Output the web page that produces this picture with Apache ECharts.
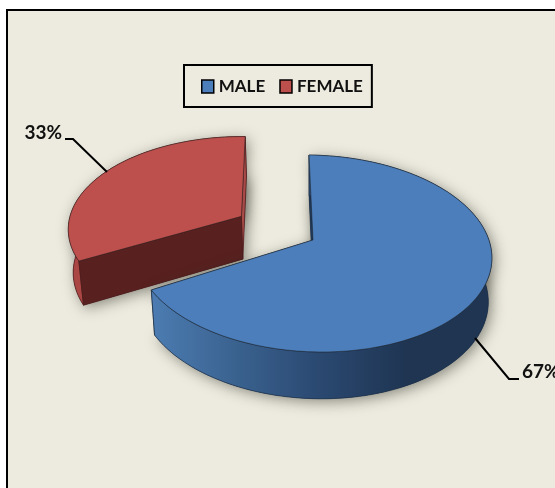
<!DOCTYPE html>
<html><head><meta charset="utf-8">
<style>html,body{margin:0;padding:0;background:#fff}#c{width:555px;height:488px}</style>
<script src="https://cdn.jsdelivr.net/npm/echarts@6/dist/echarts.min.js"></script>
</head><body><div id="c"></div>
<script>
var categories = ['MALE', 'FEMALE'];
var values = [67, 33];
var labelSuffix = '%';

var P = {cx:313, cy:240, R:176.5, Ry:96.6, k:0.137, shearX:-4.5, shearY:-2, start:0, explode:0.48, depth:43.5, bottomScale:0.98};
var total = values.reduce(function(a,b){return a+b;},0);
var looks = [
  {top:'#4b7ebb', start:'#1f3a5c', end:'#1f3a5c', rim:['#4c7cb2','#3a628f','#2a4870','#1f3552','#1f3552'], stroke:'#1c2f48', rimFirst:false,
   leader:[[475,338],[509,379],[519,379]], text:[522,372,'left']},
  {top:'#bd504d', start:'#582120', end:'#a84a47', rim:['#aa4643','#a84a47'], stroke:'#4a1d1c', rimFirst:true,
   leader:[[107,172],[73,139],[65,139]], text:[62,133,'right']}
];
function proj(u,v){var w=1+P.k*v;return [P.cx+(P.R*u+P.shearX*v)/w, P.cy-(P.Ry*v+P.shearY*u)/w, w];}
function low(p){return [P.cx+(p[0]-P.cx)*P.bottomScale, p[1]+P.depth/Math.sqrt(p[2])];}
function slice(idx){
  var before=0; for(var i=0;i<idx;i++) before+=values[i];
  var a0=P.start+before/total*360, a1=a0+values[idx]/total*360, mid=(a0+a1)/2*Math.PI/180;
  var e=idx===1?P.explode:0, ou=e*Math.sin(mid), ov=e*Math.cos(mid);
  var arc=[];
  for(var a=a0;a<=a1+1e-6;a+=1.5){var r=a*Math.PI/180;arc.push(proj(ou+Math.sin(r),ov+Math.cos(r)));}
  return {apex:proj(ou,ov),arc:arc};
}
function poly(points,style){
  return {type:'polygon',shape:{points:points.map(function(p){return [p[0],p[1]];})},style:style};
}
function render(idx){
  return function(params,api){
    var s=slice(idx), L=looks[idx], apex=s.apex, arc=s.arc;
    var lowArc=arc.map(low), lowApex=low(apex);
    var shadow={shadowBlur:14,shadowColor:'rgba(40,40,30,0.5)',shadowOffsetX:3,shadowOffsetY:3};
    var kids=[];
    var rimColor=L.rim.length>2?new echarts.graphic.LinearGradient(0,0,1,0,L.rim.map(function(c,i){return {offset:i/(L.rim.length-1),color:c};})):L.rim[0];
    kids.push(poly([lowApex].concat(lowArc),Object.assign({fill:L.start},shadow)));
    kids.push(poly([apex].concat(arc),Object.assign({fill:L.start},shadow)));
    var f=arc[0], lf=lowArc[0], e=arc[arc.length-1], le=lowArc[lowArc.length-1];
    var rim=poly(arc.concat(lowArc.slice().reverse()),{fill:rimColor,stroke:L.stroke,lineWidth:0.7});
    var faces=[
      poly([apex,e,le,lowApex],{fill:L.end,stroke:L.stroke,lineWidth:0.7}),
      poly([apex,f,lf,lowApex],{fill:L.start,stroke:L.stroke,lineWidth:0.7})
    ];
    if(L.rimFirst){kids.push(rim);kids=kids.concat(faces);}else{kids=kids.concat(faces);kids.push(rim);}
    kids.push(poly([apex].concat(arc),{fill:L.top,stroke:'rgba(30,30,30,0.65)',lineWidth:0.7}));
    kids.push({type:'polyline',shape:{points:L.leader},style:{fill:null,stroke:'#000',lineWidth:2}});
    kids.push({type:'text',style:{x:L.text[0],y:L.text[1],text:api.value(0)+labelSuffix,fill:'#111',
      font:'bold 19px Lato',textAlign:L.text[2],textVerticalAlign:'middle'}});
    return {type:'group',children:kids};
  };
}
var chart=echarts.init(document.getElementById('c'),null,{renderer:'canvas'});
chart.setOption({
  animation:false,
  backgroundColor:'#fff',
  graphic:[
    {type:'rect',z:-10,shape:{x:6,y:9,width:549,height:479},style:{fill:'#000'},silent:true},
    {type:'rect',z:-9,shape:{x:8,y:11,width:547,height:477},style:{fill:'#edebdf'},silent:true}
  ],
  legend:{
    data:categories,left:184,top:65,orient:'horizontal',
    borderColor:'#000',borderWidth:2,padding:[13,9,12,17],itemGap:14,itemWidth:12,itemHeight:13,
    icon:'rect',selectedMode:false,
    itemStyle:{borderColor:'#000',borderWidth:1.5},
    textStyle:{color:'#111',fontFamily:'Lato',fontWeight:'bold',fontSize:17}
  },
  series:categories.map(function(n,i){
    return {type:'custom',name:n,coordinateSystem:'none',z:i===0?4:3,
      itemStyle:{color:looks[i].top},
      data:[[values[i]]],renderItem:render(i)};
  })
});
</script></body></html>
